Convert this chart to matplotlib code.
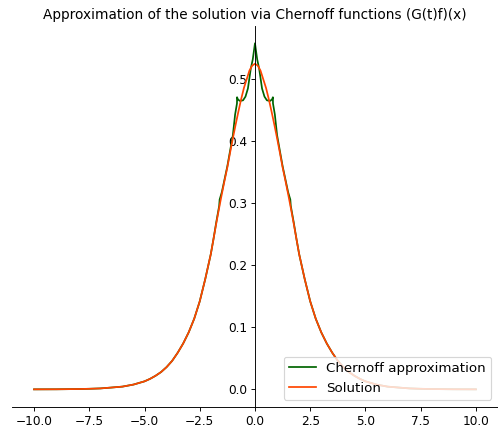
import matplotlib
matplotlib.use("Agg")
import matplotlib.pyplot as plt

# values
x_sol = [-10.0, -9.0, -8.0, -7.5, -7.0, -6.5, -6.0, -5.5, -5.0, -4.75, -4.5, -4.25, -4.0,
         -3.75, -3.5, -3.25, -3.0, -2.75, -2.5, -2.25, -2.0, -1.875, -1.75, -1.625, -1.5,
         -1.375, -1.25, -1.125, -1.0, -0.875, -0.75, -0.625, -0.5, -0.375, -0.25, -0.125, 0.0,
         0.125, 0.25, 0.375, 0.5, 0.625, 0.75, 0.875, 1.0, 1.125, 1.25, 1.375, 1.5,
         1.625, 1.75, 1.875, 2.0, 2.25, 2.5, 2.75, 3.0, 3.25, 3.5, 3.75, 4.0,
         4.25, 4.5, 4.75, 5.0, 5.5, 6.0, 6.5, 7.0, 7.5, 8.0, 9.0, 10.0]
y_sol = [0.0001, 0.0002, 0.0006, 0.001, 0.0016, 0.003, 0.0045, 0.0078, 0.013, 0.017, 0.022, 0.028, 0.036,
         0.046, 0.059, 0.074, 0.092, 0.114, 0.142, 0.178, 0.218, 0.243, 0.268, 0.292, 0.315,
         0.337, 0.358, 0.382, 0.405, 0.427, 0.448, 0.468, 0.486, 0.500, 0.514, 0.522, 0.525,
         0.522, 0.514, 0.500, 0.486, 0.468, 0.448, 0.427, 0.405, 0.382, 0.358, 0.337, 0.315,
         0.292, 0.268, 0.243, 0.218, 0.178, 0.142, 0.114, 0.092, 0.074, 0.059, 0.046, 0.036,
         0.028, 0.022, 0.017, 0.013, 0.0078, 0.0045, 0.003, 0.0016, 0.001, 0.0006, 0.0002, 0.0001]

x_cher = [-10.0, -9.0, -8.0, -7.5, -7.0, -6.5, -6.0, -5.5, -5.0, -4.75, -4.5, -4.25, -4.0,
          -3.75, -3.5, -3.25, -3.0, -2.75, -2.5, -2.25, -2.0, -1.875, -1.75, -1.62, -1.6,
          -1.55, -1.5, -1.375, -1.25, -1.1, -1.0, -0.9, -0.815,
          -0.81, -0.78, -0.69, -0.54, -0.43, -0.32, -0.19, -0.1, -0.05, 0.0,
          0.05, 0.1, 0.19, 0.32, 0.43, 0.54, 0.69, 0.78, 0.81,
          0.815, 0.9, 1.0, 1.1, 1.25, 1.375, 1.5, 1.55, 1.6, 1.62, 1.75, 1.875, 2.0,
          2.25, 2.5, 2.75, 3.0, 3.25, 3.5, 3.75, 4.0, 4.25, 4.5, 4.75, 5.0,
          5.5, 6.0, 6.5, 7.0, 7.5, 8.0, 9.0, 10.0]
y_cher = [0.0001, 0.0002, 0.0006, 0.001, 0.0016, 0.003, 0.0045, 0.0078, 0.013, 0.017, 0.022, 0.028, 0.036,
          0.046, 0.059, 0.074, 0.092, 0.114, 0.142, 0.178, 0.218, 0.243, 0.270, 0.296, 0.306,
          0.312, 0.318, 0.339, 0.360, 0.390, 0.410, 0.443, 0.461,
          0.471, 0.468, 0.465, 0.466, 0.472, 0.485, 0.517, 0.532, 0.545, 0.558,
          0.545, 0.532, 0.517, 0.485, 0.472, 0.466, 0.465, 0.468, 0.471,
          0.461, 0.443, 0.410, 0.390, 0.360, 0.339, 0.318, 0.312, 0.306, 0.296, 0.270, 0.243, 0.218,
          0.178, 0.142, 0.114, 0.092, 0.074, 0.059, 0.046, 0.036, 0.028, 0.022, 0.017, 0.013,
          0.0078, 0.0045, 0.003, 0.0016, 0.001, 0.0006, 0.0002, 0.0001]

fig = plt.figure(figsize=(6.0, 5.23), dpi=83)
ax = fig.add_axes([0.024, 0.063, 0.976, 0.877])

ax.plot(x_cher, y_cher, color="darkgreen", label="Chernoff approximation")
ax.plot(x_sol, y_sol, color="orangered", label="Solution")

# y axis through x = 0, open box
ax.spines["left"].set_position("zero")
ax.spines["top"].set_visible(False)
ax.spines["right"].set_visible(False)
ax.set_xticks([-10, -7.5, -5, -2.5, 0, 2.5, 5, 7.5, 10])
ax.set_yticks([0.0, 0.1, 0.2, 0.3, 0.4, 0.5])
ax.tick_params(labelsize=10.5)

ax.set_title("Approximation of the solution via Chernoff functions (G(t)f)(x)", fontsize=11.8)
ax.legend(loc="lower right", fontsize=11.6)

fig.savefig("out.png", dpi=83)
